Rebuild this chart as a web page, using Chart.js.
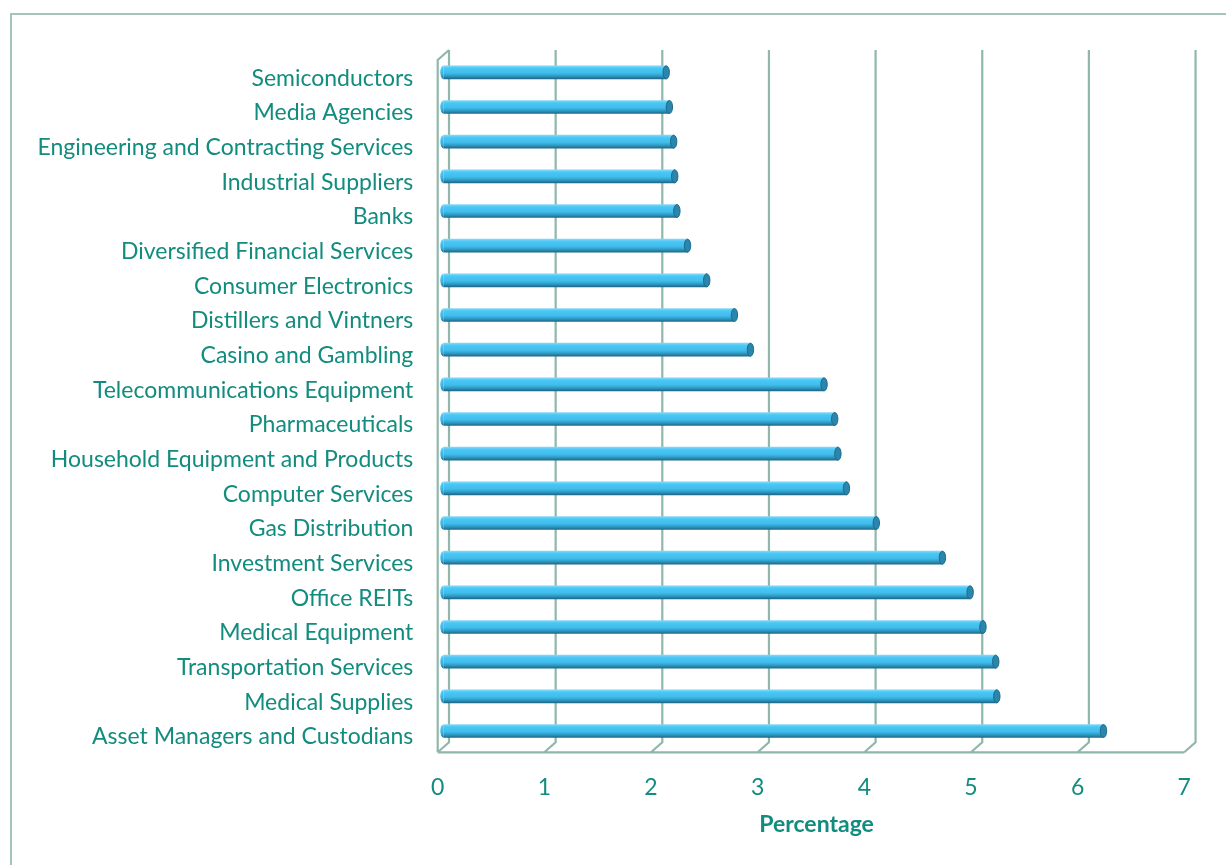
<!DOCTYPE html>
<html>
<head>
<meta charset="utf-8">
<script src="https://cdn.jsdelivr.net/npm/chart.js@4.4.1/dist/chart.umd.min.js"></script>
<style>
  html, body { margin: 0; padding: 0; background: #ffffff; }
  #wrap { width: 1226px; height: 865px; position: relative; }
</style>
</head>
<body>
<div id="wrap"><canvas id="chartbars"></canvas></div>
<script>
// data
const categories = [
    "Semiconductors",
    "Media Agencies",
    "Engineering and Contracting Services",
    "Industrial Suppliers",
    "Banks",
    "Diversified Financial Services",
    "Consumer Electronics",
    "Distillers and Vintners",
    "Casino and Gambling",
    "Telecommunications Equipment",
    "Pharmaceuticals",
    "Household Equipment and Products",
    "Computer Services",
    "Gas Distribution",
    "Investment Services",
    "Office REITs",
    "Medical Equipment",
    "Transportation Services",
    "Medical Supplies",
    "Asset Managers and Custodians"
];
const percentage = [2.09, 2.12, 2.16, 2.17, 2.19, 2.29, 2.47, 2.73, 2.88, 3.57,
                    3.67, 3.70, 3.78, 4.06, 4.68, 4.94, 5.06, 5.18, 5.19, 6.19];
const xTicks = [0, 1, 2, 3, 4, 5, 6, 7];
const xTitle = "Percentage";

const teal = "#128c7e";
const gridColor = "#8fb7ab";
const fontName = "Lato";

// fake 3d walls of the excel chart
const frame3d = {
    id: "frame3d",
    beforeDraw(chart) {
        const c = chart.ctx;
        c.save();
        c.strokeStyle = "#a5c4bc";
        c.lineWidth = 2;
        c.strokeRect(11, 14, 1240, 880);
        c.restore();
    },
    beforeDatasetsDraw(chart) {
        const c = chart.ctx;
        const xs = chart.scales.x;
        const a = chart.chartArea;
        const front = v => xs.getPixelForValue(v) - 5.6;
        const back = v => xs.getPixelForValue(v) + 5.7;
        const backTop = a.top - 5, backBottom = a.bottom - 6;
        const frontTop = a.top + 5, frontBottom = a.bottom + 4;
        c.save();
        c.strokeStyle = gridColor;
        c.lineWidth = 2.2;
        c.beginPath();
        xTicks.forEach(v => {
            c.moveTo(back(v), backTop);
            c.lineTo(back(v), backBottom);
            c.lineTo(front(v), frontBottom);
        });
        c.moveTo(front(xTicks[0]), frontBottom);
        c.lineTo(front(xTicks[xTicks.length - 1]), frontBottom);
        c.moveTo(front(0), frontBottom);
        c.lineTo(front(0), frontTop);
        c.lineTo(back(0), backTop);
        c.stroke();
        c.restore();
    },
    afterDatasetsDraw(chart) {
        const c = chart.ctx;
        const meta = chart.getDatasetMeta(0);
        c.save();
        meta.data.forEach(bar => {
            const h = bar.height / 2;
            // left end of the cylinder
            const g = c.createLinearGradient(0, bar.y - h, 0, bar.y + h);
            g.addColorStop(0, "#6fd3f8");
            g.addColorStop(0.25, "#46c4f3");
            g.addColorStop(0.7, "#36aedc");
            g.addColorStop(1, "#1f6f90");
            c.fillStyle = g;
            c.beginPath();
            c.ellipse(bar.base, bar.y, 3, h, 0, Math.PI / 2, Math.PI * 1.5);
            c.fill();
            // right cap
            c.fillStyle = "#2a86ad";
            c.beginPath();
            c.ellipse(bar.x, bar.y, 3.2, h, 0, 0, Math.PI * 2);
            c.fill();
            c.strokeStyle = "#1f6a88";
            c.lineWidth = 1;
            c.stroke();
        });
        c.restore();
    }
};

new Chart(document.getElementById("chartbars"), {
    type: "bar",
    data: {
        labels: categories,
        datasets: [{
            label: xTitle,
            data: percentage,
            barThickness: 13,
            borderWidth: 0,
            backgroundColor: function (ctx) {
                const chart = ctx.chart;
                if (!chart.chartArea) return "#45c3f2";
                const y = chart.scales.y.getPixelForValue(ctx.dataIndex);
                const g = chart.ctx.createLinearGradient(0, y - 6.5, 0, y + 6.5);
                g.addColorStop(0, "#7fd8f8");
                g.addColorStop(0.2, "#48c6f4");
                g.addColorStop(0.55, "#41bdec");
                g.addColorStop(0.78, "#2f9ac6");
                g.addColorStop(1, "#1e6a89");
                return g;
            }
        }]
    },
    plugins: [frame3d],
    options: {
        indexAxis: "y",
        responsive: true,
        maintainAspectRatio: false,
        animation: false,
        layout: { padding: { left: 0, right: 36.15, top: 55, bottom: 0 } },
        plugins: {
            legend: { display: false },
            tooltip: { enabled: false }
        },
        scales: {
            x: {
                min: 0,
                max: 7,
                afterFit: s => { s.height = 116.7; },
                afterBuildTicks: s => { s.ticks = xTicks.map(v => ({ value: v })); },
                grid: { display: false },
                border: { display: false },
                ticks: {
                    color: teal,
                    padding: 17,
                    labelOffset: -5.6,
                    font: { family: fontName, size: 23 }
                },
                title: {
                    display: true,
                    text: xTitle,
                    color: teal,
                    padding: { top: 27, bottom: 27 },
                    font: { family: fontName, size: 23, weight: "bold" }
                }
            },
            y: {
                afterFit: s => { s.width = 443.3; },
                grid: { display: false },
                border: { display: false },
                ticks: {
                    color: teal,
                    padding: 22,
                    labelOffset: 6,
                    font: { family: fontName, size: 23 }
                }
            }
        }
    }
});
</script>
</body>
</html>
